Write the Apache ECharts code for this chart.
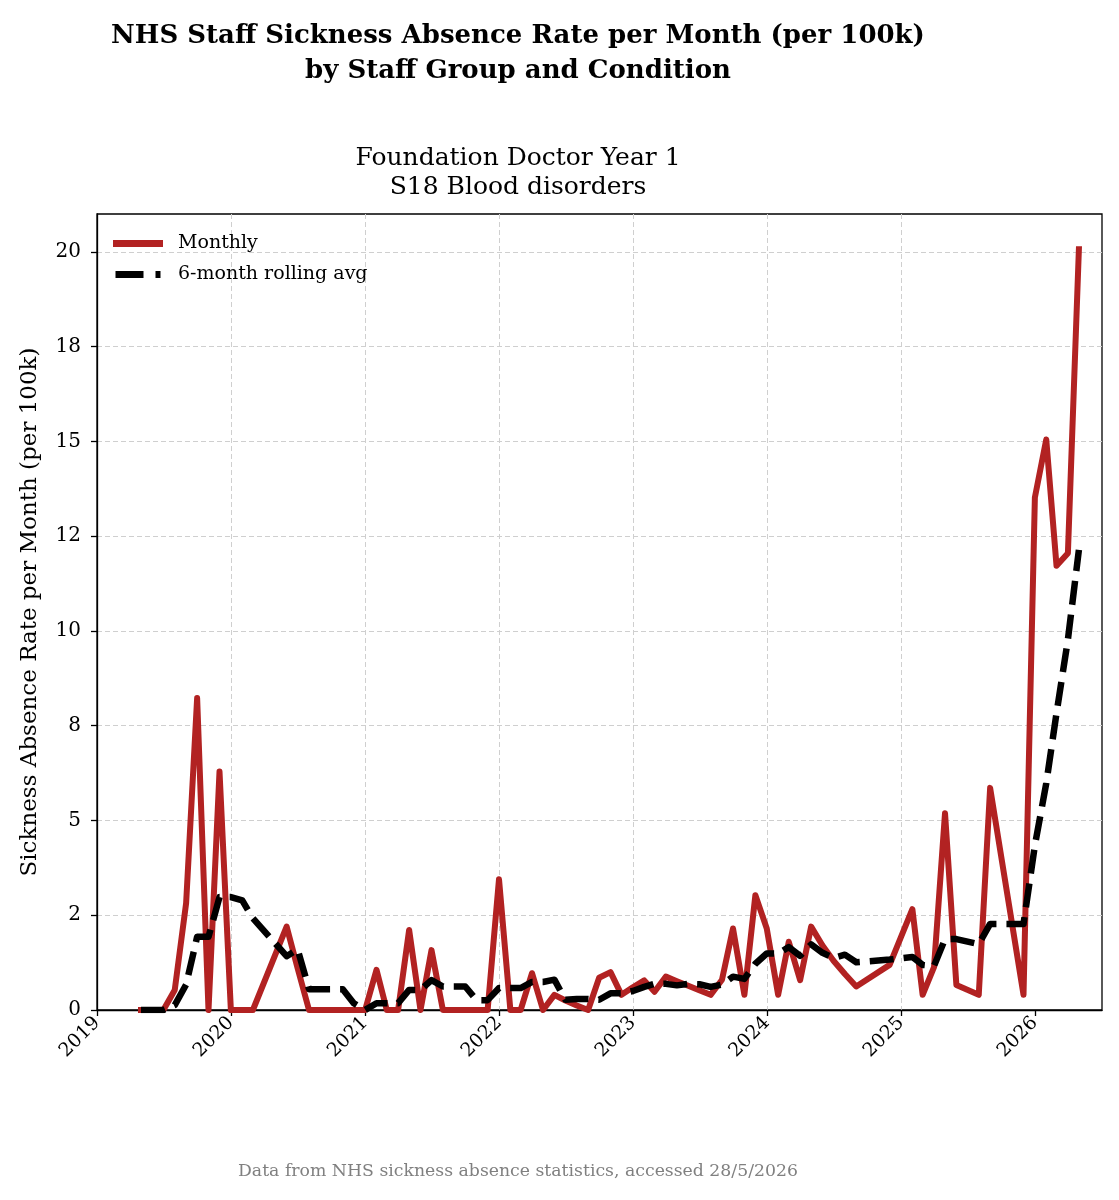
<!DOCTYPE html>
<html><head><meta charset="utf-8">
<script src="https://cdn.jsdelivr.net/npm/echarts@6/dist/echarts.min.js"></script>
<style>html,body{margin:0;padding:0;background:#fff}#c{width:1119px;height:1200px}</style>
</head><body><div id="c"></div>
<script>
const months = ['2019-05','2019-06','2019-07','2019-08','2019-09','2019-10','2019-11','2019-12',
  '2020-01','2020-02','2020-03','2020-06','2020-07','2020-08','2020-09','2020-10','2020-11','2020-12',
  '2021-01','2021-02','2021-03','2021-04','2021-05','2021-06','2021-07','2021-08','2021-09','2021-10','2021-11','2021-12',
  '2022-01','2022-02','2022-03','2022-04','2022-05','2022-06','2022-07','2022-08','2022-09','2022-10','2022-11','2022-12',
  '2023-01','2023-02','2023-03','2023-04','2023-05','2023-06','2023-07','2023-08','2023-09','2023-10','2023-11','2023-12',
  '2024-01','2024-02','2024-03','2024-04','2024-05','2024-06','2024-07','2024-08','2024-09','2024-12',
  '2025-02','2025-03','2025-04','2025-05','2025-06','2025-08','2025-09','2025-12',
  '2026-01','2026-02','2026-03','2026-04','2026-05'];
const monthly = [0,0,0,0.53,2.82,8.23,0,6.29,
  0,0,0,2.2,1.1,0,0,0,0,0,
  0,1.06,0,0,2.11,0,1.58,0,0,0,0,0,
  3.45,0,0,0.97,0,0.4,0.25,0.12,0,0.85,1.0,0.4,
  0.6,0.78,0.48,0.88,0.76,0.64,0.52,0.4,0.8,2.15,0.4,3.03,
  2.15,0.4,1.8,0.79,2.2,1.7,1.3,0.95,0.62,1.19,
  2.66,0.4,1.13,5.19,0.66,0.4,5.86,0.4,
  13.52,15.05,11.72,12.05,20.07];
const rolling = [0,0,0,0.13,0.67,1.93,1.93,2.98,
  2.98,2.89,2.42,1.42,1.6,0.55,0.55,0.55,0.55,0.18,
  0,0.18,0.18,0.18,0.53,0.53,0.79,0.62,0.62,0.62,0.26,0.26,
  0.58,0.58,0.58,0.74,0.74,0.8,0.27,0.29,0.29,0.27,0.44,0.44,
  0.5,0.61,0.69,0.69,0.65,0.69,0.68,0.61,0.67,0.88,0.82,1.22,
  1.49,1.49,1.66,1.43,1.73,1.51,1.37,1.46,1.26,1.33,
  1.4,1.19,1.16,1.87,1.87,1.74,2.27,2.27,
  4.34,5.98,7.83,9.77,12.14];
const yearTicks = [2019,2020,2021,2022,2023,2024,2025,2026];
const yTickValues = [0,2.5,5,7.5,10,12.5,15,17.5,20];
const yTickLabels = ['0','2','5','8','10','12','15','18','20'];

const FONT = 'DejaVu Serif';
const DAY = 86400000;
const ORIGIN = Date.UTC(2019,0,1);
function dayOf(s){ const p = s.split('-').map(Number); return (Date.UTC(p[0],p[1]-1,1)-ORIGIN)/DAY; }
const yearPos = yearTicks.map(y => (Date.UTC(y,0,1)-ORIGIN)/DAY);

const chart = echarts.init(document.getElementById('c'));
chart.setOption({
  animation: false,
  backgroundColor: '#fff',
  title: [
    {text: 'NHS Staff Sickness Absence Rate per Month (per 100k)\nby Staff Group and Condition',
     left: 513, top: 14, textAlign: 'center',
     textStyle: {fontFamily: FONT, fontSize: 26, fontWeight: 'bold', color: '#000', lineHeight: 35}},
    {text: 'Foundation Doctor Year 1\nS18 Blood disorders',
     left: 513, top: 139, textAlign: 'center',
     textStyle: {fontFamily: FONT, fontSize: 25, fontWeight: 'normal', color: '#000', lineHeight: 29}},
    {text: 'Data from NHS sickness absence statistics, accessed 28/5/2026',
     left: 513, top: 1158, textAlign: 'center',
     textStyle: {fontFamily: FONT, fontSize: 17.3, fontWeight: 'normal', color: '#808080'}}
  ],
  legend: {
    orient: 'vertical', left: 108, top: 228,
    itemWidth: 50, itemHeight: 7, itemGap: 10,
    data: [
      {name: 'Monthly', icon: 'rect', itemStyle: {color: '#B22222'}},
      {name: '6-month rolling avg', icon: 'path://M0,0H28V7H0Z M40,0H45V7H40Z', itemStyle: {color: '#000'}}
    ],
    textStyle: {fontFamily: FONT, fontSize: 19, color: '#000', padding: [0,0,0,10], lineHeight: 21}
  },
  grid: {left: 97, right: 17, top: 214, bottom: 190, show: true, borderColor: '#000', borderWidth: 1.3, containLabel: false},
  xAxis: {
    type: 'value', min: 0, max: 2740, interval: 365.25,
    axisLine: {show: true, lineStyle: {color: '#000', width: 1.3}},
    axisTick: {show: true, length: 6, lineStyle: {color: '#000', width: 1.3}, customValues: yearPos},
    axisLabel: {customValues: yearPos, rotate: 45, margin: 10, fontFamily: FONT, fontSize: 19, color: '#000',
      formatter: v => String(new Date(ORIGIN + v*DAY + DAY/2).getUTCFullYear())},
    splitLine: {show: true, showMaxLine: false, showMinLine: false, lineStyle: {color: '#cfcfcf', width: 1, type: [5,3]}}
  },
  yAxis: {
    type: 'value', min: 0, max: 21, interval: 2.5,
    name: 'Sickness Absence Rate per Month (per 100k)', nameLocation: 'middle', nameGap: 55,
    nameTextStyle: {fontFamily: FONT, fontSize: 23, color: '#000'},
    axisLine: {show: true, lineStyle: {color: '#000', width: 1.3}},
    axisTick: {show: true, length: 6, lineStyle: {color: '#000', width: 1.3}},
    axisLabel: {showMaxLabel: false, margin: 16, fontFamily: FONT, fontSize: 20, color: '#000',
      formatter: v => { const i = yTickValues.findIndex(t => Math.abs(t - v) < 1e-6); return i >= 0 ? yTickLabels[i] : ''; }},
    splitLine: {show: true, showMaxLine: false, showMinLine: false, lineStyle: {color: '#cfcfcf', width: 1, type: [5,3]}}
  },
  series: [
    {name: 'Monthly', type: 'line', symbol: 'none', z: 2,
     data: months.map((m,i) => [dayOf(m), monthly[i]]),
     lineStyle: {color: '#B22222', width: 6, join: 'round', cap: 'square'},
     itemStyle: {color: '#B22222'}},
    {name: '6-month rolling avg', type: 'line', symbol: 'none', z: 3,
     data: months.map((m,i) => [dayOf(m), rolling[i]]),
     lineStyle: {color: '#000', width: 6.5, type: [24,10], join: 'round'},
     itemStyle: {color: '#000'}}
  ]
});
</script></body></html>
